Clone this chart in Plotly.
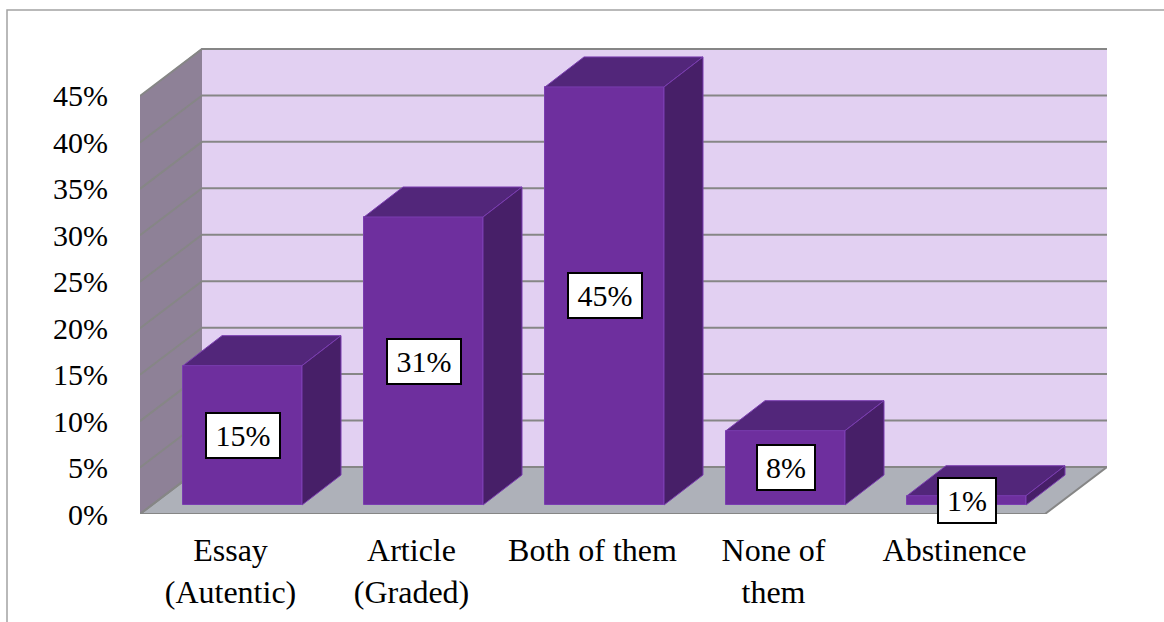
import plotly.graph_objects as go

# ---- data ----
categories = ["Essay<br>(Autentic)", "Article<br>(Graded)", "Both of them", "None of<br>them", "Abstinence"]
values = [15, 31, 45, 8, 1]
value_labels = ["15%", "31%", "45%", "8%", "1%"]
ticks = [0, 5, 10, 15, 20, 25, 30, 35, 40, 45]
tick_labels = ["0%", "5%", "10%", "15%", "20%", "25%", "30%", "35%", "40%", "45%"]

# ---- layout geometry (pixels of the page) ----
W, H = 1164, 622
L, R, T, B = 140, 1107, 48, 514
UX = 181.0            # pixels per category
UY = 9.29             # pixels per percent
XMAX = (R - L) / UX
YMAX = (B - T) / UY
WALL_DX, WALL_DY = 62 / UX, 47 / UY      # depth of the floor
BAR_X0, BAR_W = 43 / UX, 119 / UX        # bar offset in its slot, width
BAR_BASE = 9 / UY                        # bar front sits above the axis front
BAR_DX, BAR_DY = 39 / UX, 30 / UY        # bar depth
FONT = "Liberation Serif"
FS = 30
FS_X = 32

C_WALL, C_SIDE, C_FLOOR, C_GRID = "#E2D0F2", "#8E8197", "#AEB1B9", "#868686"
C_FRONT, C_TOP, C_RIGHT, C_EDGE = "#6E2F9E", "#52267A", "#471F68", "#7A3DB0"


def path(points):
    return "M " + " L ".join(f"{x},{y}" for x, y in points)


shapes = []
# outer frame, runs off the page on the right and at the bottom
shapes.append(dict(type="rect", xref="paper", yref="paper",
                   x0=(7 - L) / (R - L), x1=1.2, y0=-0.5, y1=(B - 10) / (B - T),
                   line=dict(color="#A3A3A3", width=1.5), layer="below"))
# back wall
shapes.append(dict(type="path", layer="below",
                   path=path([(WALL_DX, WALL_DY), (XMAX, WALL_DY), (XMAX, YMAX), (WALL_DX, YMAX)]) + " Z",
                   fillcolor=C_WALL, line=dict(width=0)))
# side wall
shapes.append(dict(type="path", layer="below",
                   path=path([(0, 0), (WALL_DX, WALL_DY), (WALL_DX, YMAX), (0, ticks[-1])]) + " Z",
                   fillcolor=C_SIDE, line=dict(width=0)))
# floor
shapes.append(dict(type="path", layer="below",
                   path=path([(0, 0), (5, 0), (5 + WALL_DX, WALL_DY), (WALL_DX, WALL_DY)]) + " Z",
                   fillcolor=C_FLOOR, line=dict(color=C_GRID, width=2)))
# gridlines wrap from the side wall on to the back wall
for t in ticks:
    shapes.append(dict(type="path", layer="below",
                       path=path([(0, t), (WALL_DX, t + WALL_DY), (XMAX, t + WALL_DY)]),
                       line=dict(color=C_GRID, width=2)))

fig = go.Figure()

# front faces
fig.add_trace(go.Bar(
    x=[i + BAR_X0 + BAR_W / 2 for i in range(len(values))],
    y=values, base=BAR_BASE, width=BAR_W,
    marker=dict(color=C_FRONT, line=dict(color=C_EDGE, width=1)),
    showlegend=False, hoverinfo="skip"))

# top and right faces
for i, v in enumerate(values):
    x0, x1 = i + BAR_X0, i + BAR_X0 + BAR_W
    y0, y1 = BAR_BASE, BAR_BASE + v
    fig.add_trace(go.Scatter(
        x=[x0, x1, x1 + BAR_DX, x0 + BAR_DX, x0],
        y=[y1, y1, y1 + BAR_DY, y1 + BAR_DY, y1],
        mode="lines", fill="toself", fillcolor=C_TOP,
        line=dict(color=C_EDGE, width=1), showlegend=False, hoverinfo="skip"))
    fig.add_trace(go.Scatter(
        x=[x1, x1 + BAR_DX, x1 + BAR_DX, x1, x1],
        y=[y0, y0 + BAR_DY, y1 + BAR_DY, y1, y0],
        mode="lines", fill="toself", fillcolor=C_RIGHT,
        line=dict(color=C_EDGE, width=1), showlegend=False, hoverinfo="skip"))

# value labels in white boxes
annotations = []
for i, (v, s) in enumerate(zip(values, value_labels)):
    annotations.append(dict(
        x=i + BAR_X0 + BAR_W / 2, y=BAR_BASE + v / 2, xref="x", yref="y",
        text=s, showarrow=False, font=dict(family=FONT, size=FS, color="black"),
        bgcolor="white", bordercolor="black", borderwidth=2,
        width=70 if len(s) == 3 else 54, height=41, align="center", valign="middle"))

fig.update_layout(
    width=W, height=H, plot_bgcolor="white", paper_bgcolor="white",
    margin=dict(l=L, r=W - R, t=T, b=H - B, pad=0),
    bargap=0, showlegend=False, shapes=shapes, annotations=annotations,
    font=dict(family=FONT, size=FS, color="black"),
    xaxis=dict(range=[0, XMAX], tickmode="array", automargin=False,
               tickvals=[i + 0.5 for i in range(len(categories))], ticktext=categories,
               showgrid=False, zeroline=False, showline=False, ticks="outside",
               ticklen=8, tickcolor="rgba(0,0,0,0)", tickangle=0,
               tickfont=dict(family=FONT, size=FS_X, color="black")),
    yaxis=dict(range=[0, YMAX], tickmode="array", tickvals=ticks, ticktext=tick_labels, automargin=False,
               showgrid=False, zeroline=False, showline=False, ticks="outside",
               ticklen=25, tickcolor="rgba(0,0,0,0)"),
)

fig.write_html("out.html", config={"displayModeBar": False},
               post_script="document.body.style.margin='0';document.body.style.overflow='hidden';")
